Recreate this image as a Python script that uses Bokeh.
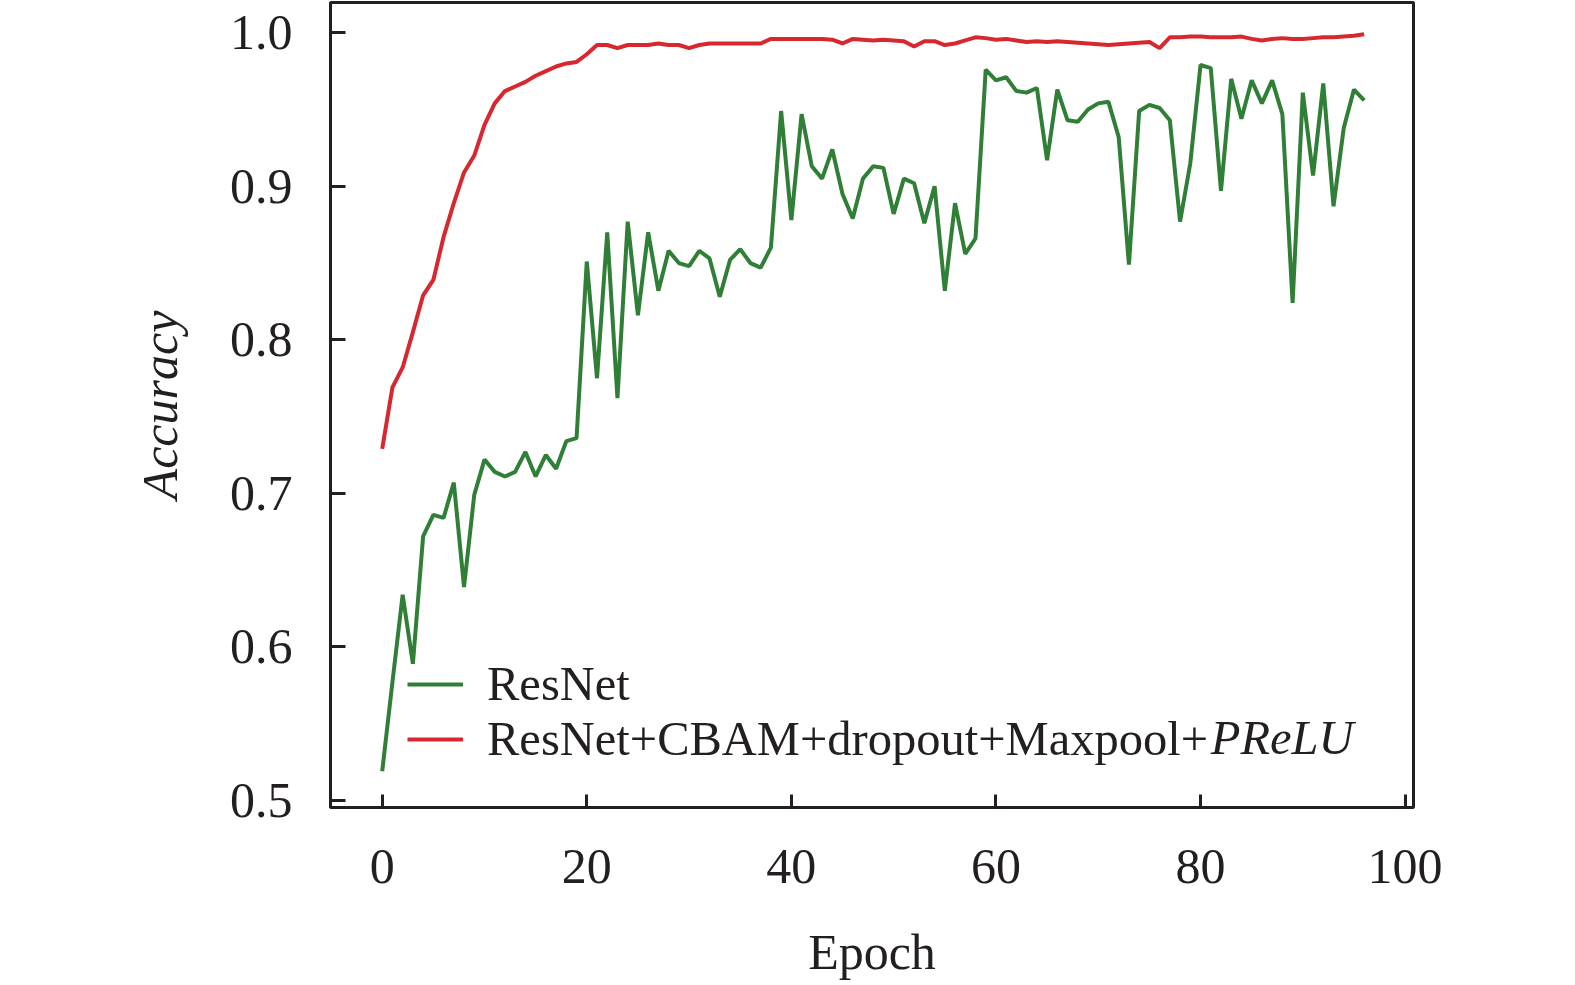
from bokeh.plotting import figure
from bokeh.models import (Range1d, FixedTicker, PrintfTickFormatter, Legend, LegendItem, Label)
from bokeh.embed import file_html
from bokeh.resources import INLINE

# ---- data ----
epochs = list(range(97))

resnet = [0.519, 0.577, 0.634, 0.589, 0.672, 0.686, 0.684, 0.707, 0.639, 0.699,
          0.722, 0.714, 0.711, 0.714, 0.727, 0.711, 0.725, 0.716, 0.734, 0.736,
          0.851, 0.775, 0.870, 0.762, 0.877, 0.816, 0.870, 0.832, 0.858, 0.850,
          0.848, 0.858, 0.853, 0.828, 0.852, 0.859, 0.850, 0.847, 0.860, 0.949,
          0.878, 0.947, 0.913, 0.905, 0.924, 0.895, 0.879, 0.905, 0.913, 0.912,
          0.882, 0.905, 0.902, 0.876, 0.900, 0.832, 0.889, 0.856, 0.866, 0.976,
          0.969, 0.971, 0.962, 0.961, 0.964, 0.917, 0.963, 0.943, 0.942, 0.950,
          0.954, 0.955, 0.932, 0.849, 0.949, 0.953, 0.951, 0.943, 0.877, 0.915,
          0.979, 0.977, 0.897, 0.970, 0.944, 0.969, 0.954, 0.969, 0.947, 0.824,
          0.961, 0.907, 0.967, 0.887, 0.938, 0.963, 0.956]

improved = [0.729, 0.769, 0.782, 0.805, 0.829, 0.839, 0.867, 0.889, 0.909, 0.920,
            0.940, 0.954, 0.962, 0.965, 0.968, 0.972, 0.975, 0.978, 0.980, 0.981,
            0.986, 0.992, 0.992, 0.990, 0.992, 0.992, 0.992, 0.993, 0.992, 0.992,
            0.990, 0.992, 0.993, 0.993, 0.993, 0.993, 0.993, 0.993, 0.996, 0.996,
            0.996, 0.996, 0.996, 0.996, 0.9955, 0.993, 0.996, 0.9955, 0.995, 0.9955,
            0.995, 0.9945, 0.991, 0.9945, 0.9945, 0.992, 0.993, 0.995, 0.997, 0.9965,
            0.9955, 0.996, 0.995, 0.994, 0.9945, 0.994, 0.9945, 0.994, 0.9935, 0.993,
            0.9925, 0.992, 0.9925, 0.993, 0.9935, 0.994, 0.990, 0.997, 0.997, 0.9975,
            0.9975, 0.997, 0.997, 0.997, 0.9975, 0.996, 0.995, 0.996, 0.9965, 0.996,
            0.996, 0.9965, 0.997, 0.997, 0.9975, 0.998, 0.999]

x_ticks = [0, 20, 40, 60, 80, 100]
y_ticks = [0.5, 0.6, 0.7, 0.8, 0.9, 1.0]
label_a = "ResNet"
label_b_plain = "ResNet+CBAM+dropout+Maxpool+"
label_b_italic = "PReLU"

FONT = "Liberation Serif"
AX = "#231f20"
GREEN = "#2f7f36"
RED = "#d7282f"

p = figure(width=1545, height=984, output_backend="svg", toolbar_location=None,
           x_range=Range1d(-5.054, 100.82), y_range=Range1d(0.4954, 1.0197),
           min_border_left=330, min_border_right=132, min_border_top=2, min_border_bottom=177)
p.background_fill_color = "white"
p.border_fill_color = "white"
p.xgrid.visible = False
p.ygrid.visible = False
p.outline_line_color = AX
p.outline_line_width = 3
p.outline_line_alpha = 1.0

g = p.line(epochs, resnet, line_color=GREEN, line_width=4)
r = p.line(epochs, improved, line_color=RED, line_width=4)

for ax in (p.xaxis[0], p.yaxis[0]):
    ax.axis_line_color = AX
    ax.axis_line_width = 3
    ax.major_tick_line_color = AX
    ax.major_tick_line_width = 3
    ax.major_tick_out = 0
    ax.minor_tick_line_color = None
    ax.major_label_text_font = FONT
    ax.major_label_text_font_size = "50px"
    ax.major_label_text_color = "#231f20"
    ax.axis_label_text_font = FONT
    ax.axis_label_text_font_size = "50px"
    ax.axis_label_text_color = "#231f20"

p.xaxis.ticker = FixedTicker(ticks=x_ticks)
p.xaxis.major_tick_in = 13
p.xaxis.major_label_standoff = 42
p.xaxis.axis_label = "Epoch"
p.xaxis.axis_label_standoff = 38
p.xaxis.axis_label_text_font_style = "normal"

p.yaxis.ticker = FixedTicker(ticks=y_ticks)
p.yaxis.formatter = PrintfTickFormatter(format="%.1f")
p.yaxis.major_tick_in = 15
p.yaxis.major_label_standoff = 38
p.yaxis.axis_label = "Accuracy"
p.yaxis.axis_label_standoff = 39
p.yaxis.axis_label_text_font_style = "italic"

legend = Legend(items=[LegendItem(label=label_a, renderers=[g]),
                       LegendItem(label=label_b_plain, renderers=[r])],
                location=(77, 41), glyph_width=56, glyph_height=50, label_height=50,
                label_standoff=24, padding=0, margin=0, spacing=-3,
                label_text_font=FONT, label_text_font_size="48.5px", label_text_color="#231f20",
                border_line_alpha=0, background_fill_alpha=0)
p.add_layout(legend)

p.add_layout(Label(x=81.0, y=0.5413, text=label_b_italic, text_font=FONT,
                   text_font_size="48.5px", text_font_style="italic",
                   text_baseline="middle", text_color="#231f20"))

open("out.html", "w").write(file_html(p, INLINE))
